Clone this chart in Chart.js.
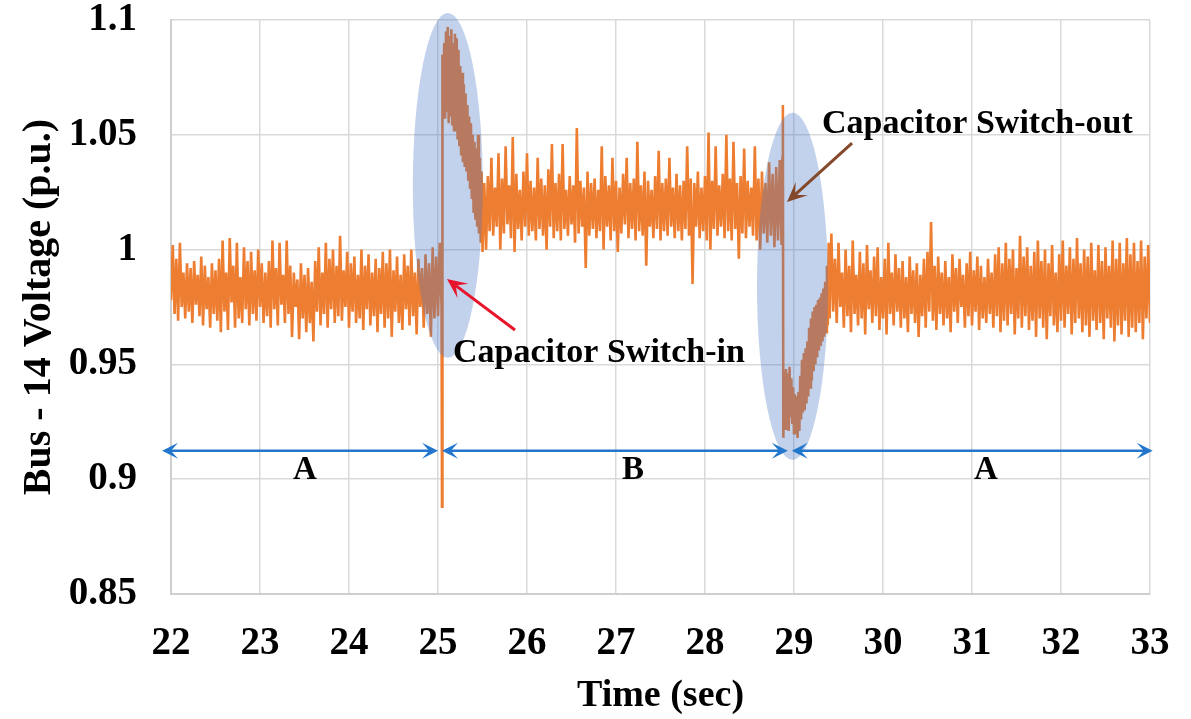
<!DOCTYPE html>
<html>
<head>
<meta charset="utf-8">
<title>Bus 14 voltage</title>
<script src="https://cdn.jsdelivr.net/npm/chart.js@4.4.1/dist/chart.umd.min.js"></script>
<style>
  html, body { margin: 0; padding: 0; background: #fff; }
  #wrap { width: 1191px; height: 719px; }
</style>
</head>
<body>
<div id="wrap"><canvas id="voltage-chart"></canvas></div>
<script>
// values, voltage in p.u.
// before switch-in: from 22.00 s, one sample every 0.02 s
const startBeforeIn = 22.0;
const stepBeforeIn = 0.02;
const voltBeforeIn = [
  0.978, 1.002, 0.972, 0.996, 0.969, 1.003, 0.975, 0.990, 0.970, 0.994,
  0.973, 0.992, 0.968, 0.995, 0.976, 0.989, 0.971, 0.997, 0.967, 0.993,
  0.974, 0.988, 0.966, 0.994, 0.972, 0.991, 0.969, 0.996, 0.964, 1.004,
  0.973, 0.990, 0.965, 1.005, 0.977, 0.993, 0.966, 1.003, 0.970, 0.988,
  0.968, 1.001, 0.974, 0.995, 0.967, 0.999, 0.972, 0.991, 0.969, 1.000,
  0.975, 0.994, 0.968, 0.990, 0.971, 0.995, 0.966, 1.004, 0.974, 0.992,
  0.967, 1.003, 0.976, 0.989, 0.968, 1.004, 0.972, 0.993, 0.962, 0.990,
  0.975, 0.987, 0.961, 0.994, 0.970, 0.989, 0.964, 0.992, 0.968, 0.986,
  0.960, 0.995, 0.973, 1.001, 0.967, 0.990, 0.972, 1.003, 0.966, 0.996,
  0.974, 1.000, 0.968, 0.993, 0.971, 1.006, 0.969, 0.991, 0.975, 0.999,
  0.966, 0.994, 0.973, 0.997, 0.968, 0.989, 0.970, 1.000, 0.965, 0.993,
  0.974, 0.998, 0.967, 0.990, 0.971, 0.996, 0.964, 0.992, 0.972, 0.999,
  0.966, 0.994, 0.970, 1.000, 0.962, 0.991, 0.973, 0.997, 0.968, 0.989,
  0.965, 0.998, 0.974, 0.993, 0.967, 1.000, 0.971, 0.990, 0.963, 0.996,
  0.975, 0.992, 0.966, 0.998, 0.972, 0.994, 0.962, 1.001, 0.970, 0.997
];

// capacitor switch-in: the spike, then the decaying overshoot (0.01 s samples)
const timeSpikeIn = [25.00, 25.02, 25.04, 25.045, 25.05];
const voltSpikeIn = [0.971, 1.003, 0.975, 0.888, 1.085];
const startSwitchIn = 25.06;
const stepSwitchIn = 0.01;
const voltSwitchIn = [
  1.062, 1.090, 1.057, 1.095, 1.060, 1.097, 1.055, 1.093, 1.058, 1.096,
  1.054, 1.090, 1.052, 1.094, 1.056, 1.092, 1.048, 1.087, 1.045, 1.080,
  1.041, 1.077, 1.038, 1.072, 1.036, 1.068, 1.034, 1.063, 1.030, 1.058,
  1.027, 1.055, 1.022, 1.050, 1.016, 1.047, 1.013, 1.044, 1.010, 1.050,
  1.007, 1.040, 1.003, 1.034, 0.999
];

// capacitor in service: from 25.52 s, one sample every 0.02 s
const startCapIn = 25.52;
const stepCapIn = 0.02;
const voltCapIn = [
  1.029, 1.000, 1.032, 1.008, 1.040, 1.006, 1.027, 1.010, 1.042, 1.000,
  1.031, 1.007, 1.045, 1.011, 1.028, 1.005, 1.049, 0.999, 1.033, 1.009,
  1.026, 1.004, 1.034, 1.010, 1.042, 1.006, 1.030, 1.008, 1.027, 1.004,
  1.040, 1.009, 1.031, 1.006, 1.028, 1.000, 1.035, 1.010, 1.046, 1.005,
  1.029, 1.008, 1.033, 1.004, 1.046, 1.009, 1.026, 1.006, 1.032, 1.011,
  1.028, 1.003, 1.053, 1.007, 1.030, 1.010, 1.027, 0.992, 1.034, 1.006,
  1.029, 1.009, 1.031, 1.005, 1.026, 1.008, 1.045, 1.000, 1.032, 1.010,
  1.028, 1.004, 1.040, 1.008, 1.030, 0.999, 1.027, 1.007, 1.033, 1.011,
  1.040, 1.005, 1.029, 1.009, 1.031, 1.004, 1.047, 1.008, 1.028, 1.006,
  1.034, 0.993, 1.030, 1.010, 1.026, 1.005, 1.032, 1.009, 1.043, 1.004,
  1.029, 1.008, 1.031, 1.006, 1.040, 1.010, 1.027, 1.005, 1.033, 1.008,
  1.028, 1.004, 1.030, 1.009, 1.045, 1.006, 1.031, 0.985, 1.029, 1.010,
  1.034, 1.005, 1.027, 1.008, 1.032, 1.004, 1.051, 1.000, 1.030, 1.009,
  1.045, 1.006, 1.028, 1.010, 1.033, 1.005, 1.050, 1.008, 1.031, 1.004,
  1.047, 1.009, 1.029, 0.996, 1.032, 1.007, 1.044, 1.005, 1.030, 1.010,
  1.027, 1.006, 1.045, 1.004, 1.031, 1.000, 1.034, 1.007, 1.029, 1.003,
  1.038, 1.006, 1.033, 1.001, 1.036, 1.004, 1.039
];

// capacitor switch-out: the spike, then the dip and recovery (0.01 s samples)
const timeSpikeOut = [28.86, 28.87, 28.875, 28.88];
const voltSpikeOut = [1.002, 1.040, 1.063, 0.918];
const startSwitchOut = 28.89;
const stepSwitchOut = 0.01;
const voltSwitchOut = [
  0.947, 0.922, 0.948, 0.925, 0.946, 0.921, 0.949, 0.927, 0.944, 0.924,
  0.940, 0.920, 0.937, 0.922, 0.936, 0.918, 0.938, 0.921, 0.945, 0.926,
  0.952, 0.929, 0.955, 0.930, 0.957, 0.933, 0.960, 0.936, 0.966, 0.940,
  0.970, 0.943, 0.973, 0.947, 0.975, 0.950, 0.976, 0.953, 0.978, 0.956,
  0.979, 0.958, 0.981, 0.960, 0.983, 0.962, 0.986, 0.964, 0.993, 0.967,
  1.003, 0.970
];

// after switch-out: from 29.42 s, one sample every 0.02 s
const startAfterOut = 29.42;
const stepAfterOut = 0.02;
const voltAfterOut = [
  1.007, 0.973, 0.996, 0.968, 1.003, 0.975, 0.990, 0.966, 1.000, 0.971,
  0.993, 0.964, 1.004, 0.972, 0.989, 0.967, 0.999, 0.970, 0.994, 0.963,
  1.002, 0.974, 0.991, 0.968, 0.997, 0.971, 1.001, 0.965, 0.988, 0.970,
  0.996, 0.963, 1.003, 0.972, 0.990, 0.967, 0.998, 0.973, 0.992, 0.966,
  0.995, 0.970, 0.988, 0.964, 0.997, 0.972, 0.991, 0.968, 0.994, 0.962,
  0.989, 0.971, 0.996, 0.966, 0.999, 0.973, 1.012, 0.969, 0.993, 0.965,
  0.997, 0.972, 0.990, 0.967, 0.995, 0.970, 0.988, 0.964, 0.998, 0.973,
  0.992, 0.968, 0.996, 0.975, 0.989, 0.966, 0.994, 0.971, 0.999, 0.967,
  0.991, 0.973, 0.997, 0.965, 0.993, 0.970, 0.988, 0.968, 0.996, 0.972,
  0.990, 0.966, 0.998, 0.971, 1.001, 0.964, 0.994, 0.969, 1.003, 0.967,
  0.996, 0.972, 1.000, 0.963, 0.992, 0.970, 1.006, 0.966, 0.997, 0.971,
  1.001, 0.965, 0.993, 0.969, 0.999, 0.962, 1.004, 0.970, 0.995, 0.966,
  1.000, 0.961, 0.994, 0.971, 1.002, 0.967, 0.990, 0.964, 0.998, 0.969,
  1.004, 0.966, 0.993, 0.972, 1.001, 0.963, 0.996, 0.968, 1.005, 0.970,
  0.994, 0.964, 1.000, 0.967, 0.997, 0.962, 1.003, 0.969, 0.991, 0.965,
  1.002, 0.968, 0.995, 0.961, 1.001, 0.970, 0.993, 0.966, 1.004, 0.960,
  0.996, 0.967, 1.003, 0.963, 0.994, 0.969, 1.005, 0.962, 0.998, 0.966,
  1.003, 0.964, 0.995, 0.968, 1.004, 0.961, 0.997, 0.970, 1.002, 0.968
];

const xTicksFrom = 22, xTicksTo = 33;
const yTicksFrom = 0.85, yTicksTo = 1.1;
const periodLabels = ['A', 'B', 'A'];

function sampled(start, step, vals) {
  return vals.map((v, i) => ({ x: +(start + i * step).toFixed(3), y: v }));
}
function paired(times, vals) {
  return times.map((t, i) => ({ x: t, y: vals[i] }));
}

const voltagePoints = [].concat(
  sampled(startBeforeIn, stepBeforeIn, voltBeforeIn),
  paired(timeSpikeIn, voltSpikeIn),
  sampled(startSwitchIn, stepSwitchIn, voltSwitchIn),
  sampled(startCapIn, stepCapIn, voltCapIn),
  paired(timeSpikeOut, voltSpikeOut),
  sampled(startSwitchOut, stepSwitchOut, voltSwitchOut),
  sampled(startAfterOut, stepAfterOut, voltAfterOut)
);

// annotation layout, in axis units
const zones = [
  { t: 25.11, v: 1.028, dt: 0.393, dv: 0.0751 },
  { t: 28.983, v: 0.984, dt: 0.399, dv: 0.0756 }
];
const periodSpans = [[21.9, 25.0], [25.045, 28.93], [28.975, 33.03]];
const periodLevel = 0.9124;
const periodLabelAt = [23.506, 27.191, 31.157];
const periodLabelLevel = 0.9036;
const callouts = [
  { text: 'Capacitor Switch-in', tx: 25.169, tv: 0.951, from: [25.865, 0.965], to: [25.101, 0.9872], color: '#E8142B' },
  { text: 'Capacitor Switch-out', tx: 29.315, tv: 1.0508, from: [29.652, 1.0464], to: [28.921, 1.0207], color: '#84482A' }
];

const serif = '"Liberation Serif", "Times New Roman", serif';

function arrowHead(ctx, tipX, tipY, fromX, fromY, len, half, color) {
  const ang = Math.atan2(tipY - fromY, tipX - fromX);
  ctx.save();
  ctx.translate(tipX, tipY);
  ctx.rotate(ang);
  ctx.beginPath();
  ctx.moveTo(0, 0);
  ctx.lineTo(-len, -half);
  ctx.lineTo(-len * 0.55, 0);
  ctx.lineTo(-len, half);
  ctx.closePath();
  ctx.fillStyle = color;
  ctx.fill();
  ctx.restore();
}

function arrow(ctx, x1, y1, x2, y2, len, half, color, width) {
  const ang = Math.atan2(y2 - y1, x2 - x1);
  const bx = x2 - Math.cos(ang) * len * 0.55;
  const by = y2 - Math.sin(ang) * len * 0.55;
  ctx.beginPath();
  ctx.moveTo(x1, y1);
  ctx.lineTo(bx, by);
  ctx.strokeStyle = color;
  ctx.lineWidth = width;
  ctx.stroke();
  arrowHead(ctx, x2, y2, x1, y1, len, half, color);
}

const annotations = {
  id: 'busAnnotations',
  afterDatasetsDraw(chart) {
    const { ctx, scales: { x, y } } = chart;
    ctx.save();

    zones.forEach(z => {
      const cx = x.getPixelForValue(z.t);
      const cy = y.getPixelForValue(z.v);
      const rx = Math.abs(x.getPixelForValue(z.t + z.dt) - cx);
      const ry = Math.abs(y.getPixelForValue(z.v + z.dv) - cy);
      ctx.beginPath();
      ctx.ellipse(cx, cy, rx, ry, 0, 0, Math.PI * 2);
      ctx.fillStyle = 'rgba(68, 114, 196, 0.32)';
      ctx.fill();
    });

    const py = y.getPixelForValue(periodLevel);
    periodSpans.forEach(([a, b]) => {
      const xa = x.getPixelForValue(a), xb = x.getPixelForValue(b);
      ctx.beginPath();
      ctx.moveTo(xa + 8, py);
      ctx.lineTo(xb - 8, py);
      ctx.strokeStyle = '#2277CC';
      ctx.lineWidth = 2.5;
      ctx.stroke();
      arrowHead(ctx, xa, py, xb, py, 16, 8, '#2277CC');
      arrowHead(ctx, xb, py, xa, py, 16, 8, '#2277CC');
    });

    ctx.fillStyle = '#000';
    ctx.font = 'bold 33px ' + serif;
    ctx.textAlign = 'center';
    ctx.textBaseline = 'middle';
    periodLabels.forEach((lbl, i) => {
      ctx.fillText(lbl, x.getPixelForValue(periodLabelAt[i]), y.getPixelForValue(periodLabelLevel));
    });

    ctx.font = 'bold 34px ' + serif;
    callouts.forEach(c => {
      arrow(ctx,
        x.getPixelForValue(c.from[0]), y.getPixelForValue(c.from[1]),
        x.getPixelForValue(c.to[0]), y.getPixelForValue(c.to[1]),
        20, 9, c.color, 3);
      ctx.fillStyle = '#000';
      ctx.textAlign = 'left';
      ctx.textBaseline = 'alphabetic';
      ctx.fillText(c.text, x.getPixelForValue(c.tx), y.getPixelForValue(c.tv));
    });

    ctx.restore();
  }
};

Chart.defaults.font.family = serif;
Chart.defaults.font.weight = 'bold';
Chart.defaults.color = '#000';

new Chart(document.getElementById('voltage-chart'), {
  type: 'line',
  data: {
    datasets: [{
      label: 'Bus 14 voltage',
      data: voltagePoints,
      borderColor: '#ED7D31',
      borderWidth: 2.6,
      pointRadius: 0,
      tension: 0,
      fill: false
    }]
  },
  options: {
    responsive: true,
    maintainAspectRatio: false,
    animation: false,
    layout: { padding: { top: 20, right: 41, bottom: 0, left: 0 } },
    plugins: { legend: { display: false }, tooltip: { enabled: false } },
    scales: {
      x: {
        type: 'linear',
        min: xTicksFrom,
        max: xTicksTo,
        afterFit: s => { s.height = 125; s.paddingLeft = 0; s.paddingRight = 0; },
        ticks: { stepSize: 1, padding: 27, font: { size: 39, weight: 'bold' } },
        grid: { color: '#D9D9D9', lineWidth: 1.5, drawTicks: false },
        border: { display: true, color: '#CFCFCF', width: 2 },
        title: { display: true, text: 'Time (sec)', font: { size: 38, weight: 'bold' }, padding: { top: 0, bottom: 0 } }
      },
      y: {
        type: 'linear',
        min: yTicksFrom,
        max: yTicksTo,
        afterFit: s => { s.width = 171; s.paddingTop = 0; s.paddingBottom = 0; },
        ticks: {
          stepSize: 0.05,
          padding: 34,
          font: { size: 39, weight: 'bold', lineHeight: 1 },
          callback: v => String(+v.toFixed(2))
        },
        grid: { color: '#D9D9D9', lineWidth: 1.5, drawTicks: false },
        border: { display: true, color: '#CFCFCF', width: 2 },
        title: { display: true, text: 'Bus - 14 Voltage (p.u.)', font: { size: 40, weight: 'bold' }, padding: { top: 16, bottom: 0 } }
      }
    }
  },
  plugins: [annotations]
});
</script>
</body>
</html>
